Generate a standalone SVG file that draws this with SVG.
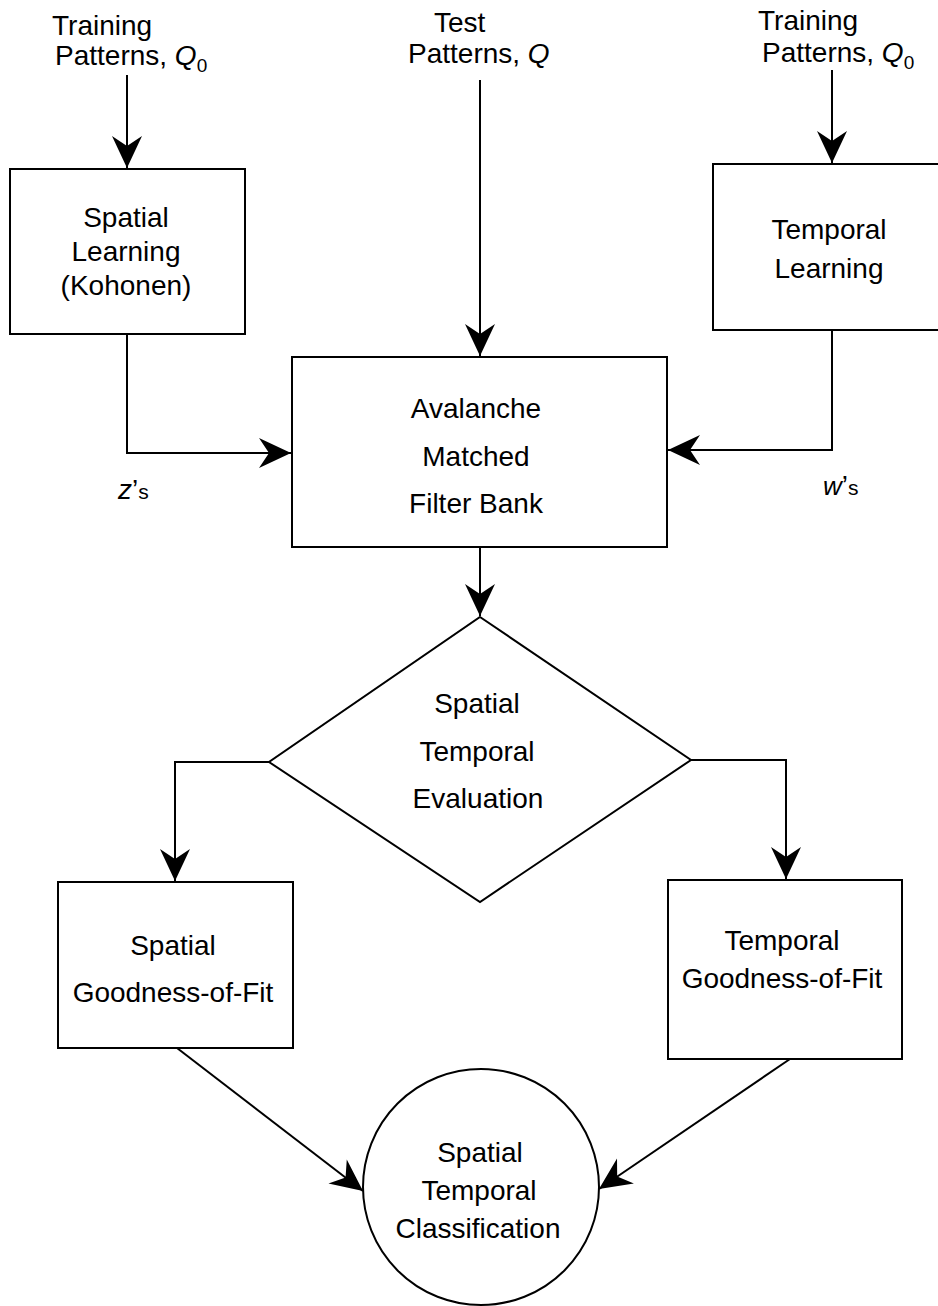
<svg xmlns="http://www.w3.org/2000/svg" width="938" height="1306" viewBox="0 0 938 1306">
<defs>
<style>
text{font-family:"Liberation Sans",Arial,sans-serif;font-size:28px;fill:#000}
.c{text-anchor:middle}
.shape{fill:#fff;stroke:#000;stroke-width:2}
.conn{fill:none;stroke:#000;stroke-width:2}
.it{font-style:italic}
</style>
<marker id="ah" markerUnits="userSpaceOnUse" markerWidth="36" markerHeight="34" viewBox="-34 -17 36 34" refX="0" refY="0" orient="auto">
<path d="M0,0 L-32,-15 L-22,0 L-32,15 Z" fill="#000"/>
</marker>
</defs>
<rect width="938" height="1306" fill="#fff"/>

<g id="connectors">
<line class="conn" x1="127" y1="75" x2="127" y2="168" marker-end="url(#ah)"/>
<line class="conn" x1="480" y1="80" x2="480" y2="356" marker-end="url(#ah)"/>
<line class="conn" x1="832" y1="70" x2="832" y2="163" marker-end="url(#ah)"/>
<polyline class="conn" points="127,334 127,453 291,453" marker-end="url(#ah)"/>
<polyline class="conn" points="832,330 832,450 668,450" marker-end="url(#ah)"/>
<line class="conn" x1="480" y1="547" x2="480" y2="616" marker-end="url(#ah)"/>
<polyline class="conn" points="269,762 175,762 175,881" marker-end="url(#ah)"/>
<polyline class="conn" points="691,760 786,760 786,879" marker-end="url(#ah)"/>
<line class="conn" x1="177" y1="1048" x2="363" y2="1191" marker-end="url(#ah)"/>
<line class="conn" x1="790" y1="1059" x2="599" y2="1189" marker-end="url(#ah)"/>
</g>

<g id="label-training-left">
<text x="52" y="35">Training</text>
<text x="55" y="65">Patterns, <tspan class="it">Q</tspan><tspan font-size="19" dy="7">0</tspan></text>
</g>
<g id="label-test">
<text x="434" y="32">Test</text>
<text x="408" y="63">Patterns, <tspan class="it">Q</tspan></text>
</g>
<g id="label-training-right">
<text x="758" y="30">Training</text>
<text x="762" y="62">Patterns, <tspan class="it">Q</tspan><tspan font-size="19" dy="7">0</tspan></text>
</g>

<g id="spatial-learning">
<rect class="shape" x="10" y="169" width="235" height="165"/>
<text class="c" x="126" y="227">Spatial</text>
<text class="c" x="126" y="261">Learning</text>
<text class="c" x="126" y="295">(Kohonen)</text>
</g>

<g id="temporal-learning">
<rect class="shape" x="713" y="164" width="240" height="166"/>
<text class="c" x="829" y="239">Temporal</text>
<text class="c" x="829" y="278">Learning</text>
</g>

<g id="filter-bank">
<rect class="shape" x="292" y="357" width="375" height="190"/>
<text class="c" x="476" y="418">Avalanche</text>
<text class="c" x="476" y="466">Matched</text>
<text class="c" x="476" y="513">Filter Bank</text>
</g>

<g id="label-z">
<text x="118" y="499"><tspan class="it">z</tspan>’<tspan font-size="21">s</tspan></text>
</g>
<g id="label-w">
<text x="823" y="495"><tspan class="it" font-size="26">w</tspan>’<tspan font-size="21">s</tspan></text>
</g>

<g id="evaluation">
<polygon class="shape" points="480,617 691,760 480,902 269,762"/>
<text class="c" x="477" y="713">Spatial</text>
<text class="c" x="477" y="761">Temporal</text>
<text class="c" x="478" y="808">Evaluation</text>
</g>

<g id="spatial-gof">
<rect class="shape" x="58" y="882" width="235" height="166"/>
<text class="c" x="173" y="955">Spatial</text>
<text class="c" x="173" y="1002">Goodness-of-Fit</text>
</g>

<g id="temporal-gof">
<rect class="shape" x="668" y="880" width="234" height="179"/>
<text class="c" x="782" y="950">Temporal</text>
<text class="c" x="782" y="988">Goodness-of-Fit</text>
</g>

<g id="classification">
<circle class="shape" cx="481" cy="1187" r="118"/>
<text class="c" x="480" y="1162">Spatial</text>
<text class="c" x="479" y="1200">Temporal</text>
<text class="c" x="478" y="1238">Classification</text>
</g>
</svg>
